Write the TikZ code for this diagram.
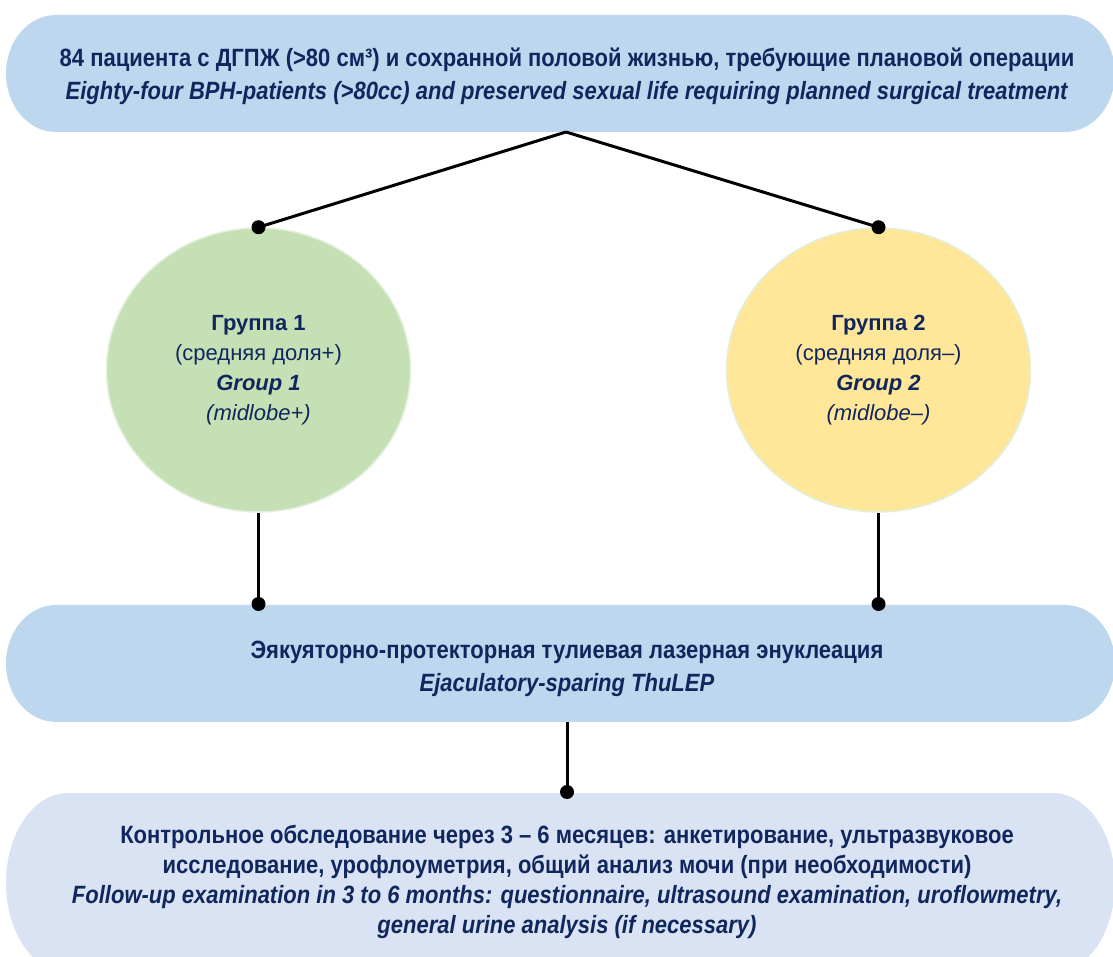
\documentclass[tikz,border=0pt]{standalone}
\usepackage{fontspec}
\setmainfont{Liberation Sans}
\newfontfamily\narrowf[FakeStretch=0.88]{Liberation Sans}
\usetikzlibrary{shapes.geometric}
\definecolor{navy}{HTML}{10275E}
\definecolor{boxblue}{HTML}{BDD7EE}
\definecolor{paleblue}{HTML}{DAE3F3}
\definecolor{grpone}{HTML}{C5E0B4}
\definecolor{grptwo}{HTML}{FFE699}
\definecolor{grpedge}{HTML}{E2EFDA}
\tikzset{
  boxtext/.style={text=navy, align=center, inner sep=0pt, font=\narrowf\fontsize{25}{33}\selectfont},
  grpnode/.style={ellipse, draw=grpedge, line width=1.5pt, minimum width=304pt, minimum height=284pt,
     inner sep=0pt, align=center, text=navy, font=\fontsize{22}{30}\selectfont},
  conn/.style={line width=3pt, black},
  dotmark/.style={fill=black}
}
\begin{document}
\begin{tikzpicture}[x=1pt,y=1pt]
\useasboundingbox (0,0) rectangle (1113,956);
\clip (0,0) rectangle (1113,956);
% boxes
\fill[boxblue] (56,941) -- (1065,941) arc[start angle=90,end angle=-90,x radius=50,y radius=58.5]
  -- (56,824) arc[start angle=270,end angle=90,x radius=50,y radius=58.5] -- cycle;
\fill[boxblue] (56,351) -- (1065,351) arc[start angle=90,end angle=-90,x radius=50,y radius=58.5]
  -- (56,234) arc[start angle=270,end angle=90,x radius=50,y radius=58.5] -- cycle;
\fill[paleblue] (68,163) -- (1053,163) arc[start angle=90,end angle=-90,x radius=62,y radius=90]
  -- (68,-17) arc[start angle=270,end angle=90,x radius=62,y radius=90] -- cycle;
\coordinate (topS) at (566,824);
\coordinate (midN1) at (258.5,352);
\coordinate (midN2) at (878.5,352);
\coordinate (midS) at (567,234);
\coordinate (botN) at (567,164);
% texts
\node[boxtext] (toptext) at (567,880) {\textbf{84 пациента с ДГПЖ (>80 см³) и сохранной половой жизнью, требующие плановой операции}\\
  \textbf{\textit{Eighty-four BPH-patients (>80cc) and preserved sexual life requiring planned surgical treatment}}};
\node[boxtext] (midtext) at (567,287) {\textbf{Эякуяторно-протекторная тулиевая лазерная энуклеация}\\
  \textbf{\textit{Ejaculatory-sparing ThuLEP}}};
\node[boxtext, font=\narrowf\fontsize{25}{30}\selectfont] (bottext) at (567,74) {\textbf{Контрольное обследование через 3 – 6 месяцев: анкетирование, ультразвуковое}\\
  \textbf{исследование, урофлоуметрия, общий анализ мочи (при необходимости)}\\
  \textbf{\textit{Follow-up examination in 3 to 6 months: questionnaire, ultrasound examination, uroflowmetry,}}\\
  \textbf{\textit{general urine analysis (if necessary)}}};
% groups
\node[grpnode, fill=grpone] (g1) at (258.5,586) {\textbf{Группа 1}\\(средняя доля+)\\\textbf{\textit{Group 1}}\\\textit{(midlobe+)}};
\node[grpnode, fill=grptwo] (g2) at (878.5,586) {\textbf{Группа 2}\\(средняя доля–)\\\textbf{\textit{Group 2}}\\\textit{(midlobe–)}};
% connectors
\draw[conn] (topS) -- (g1.north);
\draw[conn] (topS) -- (g2.north);
\draw[conn] (g1.south) -- (midN1);
\draw[conn] (g2.south) -- (midN2);
\draw[conn] (midS) -- (botN);
\fill[dotmark] (g1.north) circle[radius=7pt];
\fill[dotmark] (g2.north) circle[radius=7pt];
\fill[dotmark] (midN1) circle[radius=7pt];
\fill[dotmark] (midN2) circle[radius=7pt];
\fill[dotmark] (botN) circle[radius=7pt];
\end{tikzpicture}
\end{document}
